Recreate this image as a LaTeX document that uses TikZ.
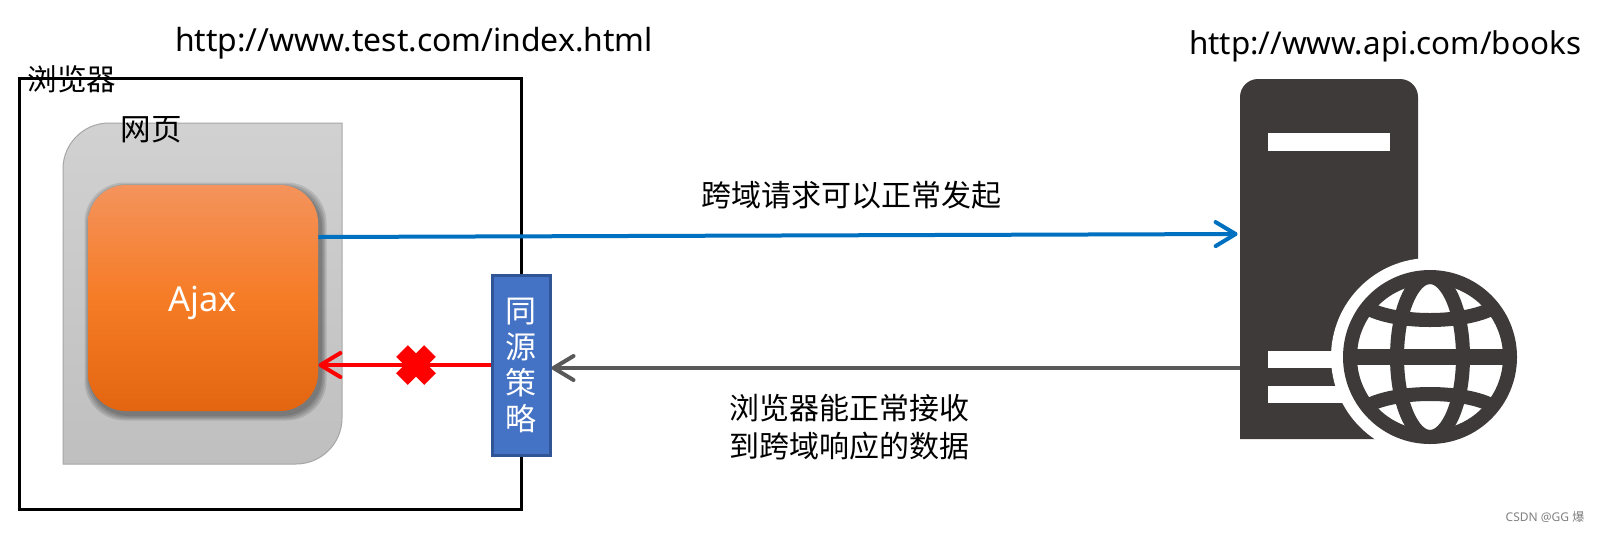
\documentclass[tikz,border=0pt]{standalone}
\usepackage{fontspec}
\setmainfont{Noto Sans}
\newfontfamily\cjk{Noto Sans CJK SC}
\usetikzlibrary{arrows.meta}
\definecolor{srv}{HTML}{3E3A39}
\definecolor{bluearrow}{HTML}{0070C0}
\definecolor{greyarrow}{HTML}{595959}
\definecolor{polfill}{HTML}{4472C4}
\definecolor{poledge}{HTML}{2F5597}
\definecolor{ajaxtop}{HTML}{F4935C}
\definecolor{ajaxmid}{HTML}{F67C26}
\definecolor{ajaxbot}{HTML}{E36510}
\tikzset{
  urltext/.style={font=\fontsize{15.95}{20}\selectfont,inner sep=0pt,text=black},
  zhtext/.style={font=\cjk\fontsize{15}{18.8}\selectfont,inner sep=0pt,text=black,align=center},
  link/.style={line width=2pt,-{Straight Barb[length=10pt,width=12pt,line cap=round,round]}},
  ajaxbox/.style={rounded corners=19pt,minimum width=115pt,minimum height=113pt,inner sep=0pt,top color=ajaxtop,bottom color=ajaxbot,middle color=ajaxmid,text=white,font=\fontsize{17.2}{20}\selectfont},
  globeline/.style={draw=srv,line width=7pt}
}
\begin{document}
\begin{tikzpicture}[x=0.5pt,y=-0.5pt]
\useasboundingbox (0,0) rectangle (1599,532);
\fill[white] (0,0) rectangle (1599,532);
% browser frame
\node[draw=black,line width=1.5pt,minimum width=251pt,minimum height=215.5pt,inner sep=0pt] (browser) at (270,293.5) {};
% web page
\path[draw=black!35,line width=0.5pt,top color=black!18,bottom color=black!25]
  (63,169) arc[start angle=180,end angle=270,x radius=46,y radius=46] -- (342,123) -- (342,418)
  arc[start angle=0,end angle=90,x radius=46,y radius=46] -- (63,464) -- cycle;
% ajax shadow
\foreach \g in {6,4.5,3,1.5}{
  \fill[black,opacity=0.11,rounded corners=20pt] (88-\g+2.5,185+3.5-\g) rectangle (318+\g+2.5,411+3.5+\g);
}
\node[ajaxbox] (ajax) at (203,298) {\raisebox{-6.5pt}[0pt][0pt]{Ajax}};
\node[zhtext,font=\cjk\fontsize{14.8}{18}\selectfont] (browserlabel) at (72,79) {浏览器};
\node[zhtext,font=\cjk\fontsize{15.3}{18}\selectfont] (pagelabel) at (151,130) {网页};
% policy
\node[draw=poledge,fill=polfill,line width=1.5pt,minimum width=29pt,minimum height=90pt,inner sep=0pt,text=white,align=center,font=\cjk\fontsize{15.5}{18}\selectfont] (policy) at (521,365.5) {同\\源\\策\\略};
% server
\fill[srv] (1240,439) -- (1240,97) arc[start angle=180,end angle=270,x radius=18,y radius=18] -- (1400,79) arc[start angle=270,end angle=360,x radius=18,y radius=18] -- (1418,439) -- cycle;
\fill[white] (1268,133) rectangle (1390,151);
\fill[white] (1268,351) rectangle (1350,368);
\fill[white] (1268,386) rectangle (1350,403);
\fill[white] (1430,357) circle[radius=99];
\node[circle,draw=srv,line width=7pt,minimum size=80pt,inner sep=0pt] (server) at (1430,357) {};
\begin{scope}
\clip (1430,357) circle[radius=82];
\draw[globeline,line width=8pt] (1345,357) -- (1515,357);
\draw[globeline] (1430,357) ellipse[x radius=33,y radius=80];
\draw[globeline] (1362,305) .. controls (1390,325) and (1470,325) .. (1498,305);
\draw[globeline] (1362,409) .. controls (1390,389) and (1470,389) .. (1498,409);
\end{scope}
\node[minimum width=89pt,minimum height=180pt,inner sep=0pt] (serverbody) at (1329,259) {};
% arrows
\draw[link,draw=bluearrow] ([yshift=30.5pt]ajax.east) -- ([xshift=-1pt,yshift=12.5pt]serverbody.west);
\draw[link,draw=greyarrow] ([yshift=-54.5pt]serverbody.west) -- ([yshift=-1.25pt]policy.east);
\draw[link,draw=red] ([yshift=0.25pt]policy.west) -- ([yshift=-33.5pt]ajax.east);
% cross
\node[inner sep=0pt,minimum size=20pt] (cross) at (416,365) {};
\draw[red,line width=8.25pt] (402,351) -- (430,379);
\draw[red,line width=8.25pt] (430,351) -- (402,379);
% labels
\node[urltext] (urla) at (414,43) {http://www.test.com/index.html};
\node[urltext,font=\fontsize{15.7}{20}\selectfont] (urlb) at (1385,46) {http://www.api.com/books};
\node[zhtext] (t1) at (851,195) {跨域请求可以正常发起};
\node[zhtext] (t2) at (849,427) {浏览器能正常接收\\到跨域响应的数据};
\node[inner sep=0pt,text=black!50,font=\fontsize{6}{7}\selectfont] (wm) at (1545,517) {CSDN @GG {\cjk 爆}};
\end{tikzpicture}
\end{document}
